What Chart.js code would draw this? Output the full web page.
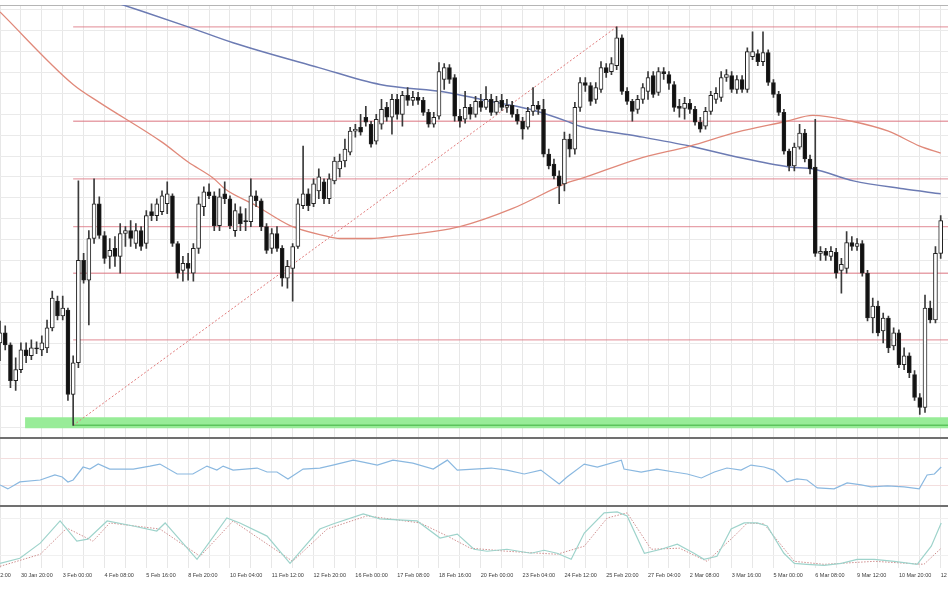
<!DOCTYPE html>
<html>
<head>
<meta charset="utf-8">
<script src="https://cdn.jsdelivr.net/npm/chart.js@4.4.1/dist/chart.umd.min.js"></script>
<style>
  html, body { margin: 0; padding: 0; background: #ffffff; }
  canvas { display: block; }
</style>
</head>
<body>
<canvas id="myChart" width="948" height="593"></canvas>
<script>
// 4h candles, price in points
var openPts = [
  95,105,93,57,68,88,82,90,88,90, 110,137,122,128,43,75,178,158,200,235,
  203,182,190,182,205,208,195,208,195,227, 223,227,235,243,195,168,175,165,190,232,
  247,243,213,245,240,208,225,218,217,243, 238,212,190,205,190,160,170,192,233,245,
  235,248,257,240,258,270,278,287,308,312, 322,315,298,315,332,322,340,325,344,339,
  342,339,327,315,323,360,372,362,323,320, 332,325,338,332,340,327,339,332,334,325,
  318,312,328,334,330,285,275,263,255,300, 290,332,357,354,340,350,372,368,374,402,
  348,338,330,340,348,364,347,368,365,355, 333,331,336,330,317,313,328,340,342,362,
  364,350,360,350,383,386,378,387,357,345, 327,288,273,292,306,280,272,185,187,182,
  186,168,170,196,192,195,165,120,132,107, 120,92,105,73,82,63,40,30,130,118,
  185
];
var highPts = [
  117,112,95,80,95,95,98,96,102,118, 147,142,142,130,82,258,185,208,260,242,
  207,200,202,215,212,218,215,212,228,235, 240,248,257,245,197,182,185,195,242,252,
  255,247,250,257,243,235,232,230,260,248, 240,215,210,212,193,178,195,240,293,250,
  260,270,260,265,282,285,300,312,315,325, 333,318,325,340,337,345,345,348,352,348,
  347,342,330,327,377,376,375,365,330,348, 335,343,345,353,345,343,345,340,338,330,
  322,332,352,338,340,290,280,268,307,305, 337,362,362,357,357,378,376,382,413,405,
  352,340,344,356,368,368,372,372,368,358, 340,342,340,333,322,332,348,352,368,370,
  368,364,364,392,408,390,408,390,360,348, 330,290,296,315,310,284,320,192,190,192,
  190,180,207,202,200,198,168,140,137,125, 122,110,108,90,85,67,44,143,137,192,
  223
];
var lowPts = [
  77,88,50,47,65,75,78,84,82,85, 107,118,118,37,12,70,155,113,195,200,
  175,170,172,165,192,192,190,188,190,218, 218,224,225,192,160,157,158,157,185,223,
  240,208,208,235,210,202,208,208,212,232, 208,185,185,187,152,150,137,190,230,228,
  232,240,235,235,255,262,272,284,302,304, 313,292,295,310,318,305,320,313,334,334,
  335,324,312,312,320,350,356,318,312,316, 320,322,328,330,324,325,329,327,322,315,
  300,310,324,325,282,270,260,235,248,282, 285,328,348,334,336,347,362,365,370,345,
  335,318,326,336,340,342,344,360,350,328, 322,320,326,314,307,310,325,336,338,358,
  347,346,347,347,380,374,374,354,342,324, 285,268,268,290,277,265,182,178,178,178,
  160,145,165,188,188,162,117,105,102,95, 85,88,70,68,60,37,23,25,115,115,
  180
];
var closePts = [
  105,93,57,68,88,82,90,89,95,110, 140,122,130,43,75,178,158,200,235,203,
  180,188,182,205,208,200,208,192,223,223, 235,243,245,195,165,175,170,190,235,247,
  243,213,242,240,213,228,215,217,243,238, 212,188,205,190,160,172,192,235,245,233,
  255,262,240,260,278,278,290,308,310,307, 317,295,320,330,322,340,325,344,339,342,
  339,327,315,322,368,372,360,323,318,332, 325,338,332,340,327,338,332,334,325,318,
  310,328,334,330,285,273,263,253,300,290, 332,357,354,338,352,372,367,376,402,348,
  338,328,340,352,362,345,368,366,356,332, 331,336,330,317,310,328,344,346,362,365,
  350,360,350,388,388,378,387,357,345,327, 288,273,292,306,280,270,185,187,183,187,
  165,174,196,192,195,165,120,132,105,120, 90,105,73,82,65,40,30,130,118,185,
  218
];

// time axis: one label every 8 candles
var labelSlots = [-4,4,12,20,28,36,44,52,60,68,76,84,92,100,108,116,124,132,140,148,156,164,172,180];
var timeLabels = ["29 Jan 12:00","30 Jan 20:00","3 Feb 00:00","4 Feb 08:00","5 Feb 16:00","8 Feb 20:00",
  "10 Feb 04:00","11 Feb 12:00","12 Feb 20:00","16 Feb 00:00","17 Feb 08:00","18 Feb 16:00",
  "20 Feb 00:00","23 Feb 04:00","24 Feb 12:00","25 Feb 20:00","27 Feb 04:00","2 Mar 08:00",
  "3 Mar 16:00","5 Mar 00:00","6 Mar 08:00","9 Mar 12:00","10 Mar 20:00","12 Mar 04:00"];

// moving averages [candle, value]
var maFast = [[0,428],[14,355],[19,337],[31,297],[36,277],[41,260],[43,250],[49,233],[55.5,213],[62,203],
  [65,200],[71,200],[75,202],[88,212],[98,230],[109,257],[111,260],[122,280],[132,293],[141,307],
  [150.5,318],[155.5,324],[163,318],[170,308],[176,293],[180,286]];
var maSlow = [[23,436],[36,413],[44.6,397],[61,372],[72.7,355],[85.6,347],[92,340],[101.4,330],[109,317],
  [111,313],[122,303],[132,293],[141,282],[151,272],[155.6,270],[163.3,258],[172.8,250],[180,245]];

// fibonacci levels from the low (candle 14) to the high (candle 118)
var fibLevels = [413, 318, 260, 212, 165, 98];
var fibLow = [14, 12];
var fibHigh = [118, 413];
var supportLevel = 14.5;

var rsiPts = [[0,30.9],[1.5,25],[3.8,35.3],[7.7,38.2],[10.5,45.6],[11.9,42.6],[13,35.3],[14,38.2],[15.9,57.4],
  [17.2,54.4],[18.8,61.8],[21,54.4],[25.5,54.4],[28.7,58.8],[30.6,61.8],[33.9,47.1],[36.9,47.1],[39.6,58.8],
  [41.5,52.9],[42.7,58.8],[44.6,52.9],[49.2,55.9],[51.1,50],[53,50],[55.1,39.7],[58,54.4],[61.2,55.9],
  [63.7,60.3],[67.6,67.6],[69.5,64.7],[72.2,60.3],[75.2,67.6],[79,63.2],[82.9,54.4],[85.6,67.6],[87.5,52.9],
  [90.7,54.4],[94,55.9],[97,52.9],[100.3,47.1],[103.5,52.9],[107,32.4],[108.5,42.6],[111.8,61.8],[114.3,57.4],
  [118.9,67.6],[119.4,54.4],[122.7,50],[125.7,54.4],[129,50],[131.5,47.1],[134.2,41.2],[136.7,50],[139.1,55.9],
  [141.8,52.9],[143.7,60.3],[146.2,57.4],[148.1,52.9],[150.6,35.3],[152.5,39.7],[154.4,38.2],[156.4,26.5],
  [159.6,25],[162.1,33.8],[164.8,30.9],[166.7,27.9],[169.8,29.4],[173,27.9],[175.9,25],[177.4,45.6],
  [178.8,47.1],[180.1,57.4]];

var stochMain = [[0,8.1],[3.8,16.1],[7.7,40.3],[11.5,75.8],[14.7,43.5],[16.8,46.8],[20.5,75.8],[25.5,67.7],
  [30,59.7],[31.6,72.6],[37.7,14.5],[43.4,80.6],[45.9,72.6],[51.1,51.6],[55.5,8.1],[61.2,62.9],[63.7,71],
  [69.5,87.1],[72.7,79],[79.8,75.8],[84.2,48.4],[87.5,54.8],[90.7,30.6],[93.2,27.4],[97,30.6],[101.6,24.2],
  [104.1,29],[106.6,24.2],[109.3,14.5],[111.8,56.5],[115.6,88.7],[118.1,90.3],[120,83.9],[123.3,24.2],
  [126.5,30.6],[129.6,38.7],[132.8,24.2],[134.7,14.5],[137.2,19.4],[139.9,62.9],[142.4,72.6],[144.9,72.6],
  [146.8,67.7],[150,24.2],[152,8.1],[154.4,6.5],[157.7,4.8],[161,8.1],[164,14.5],[167.3,14.5],[171.1,11.3],
  [175.5,6.5],[178.2,35.5],[180.1,72.6]];
var stochSignal = [[0,3.2],[7.7,22.6],[12.8,64.5],[17.8,43.5],[21,72.6],[30.6,62.9],[38.3,19.4],[44.6,75.8],
  [56,11.3],[62.6,62.9],[70.2,83.9],[80.4,72.6],[85.6,51.6],[90,32.3],[97,27.4],[106.6,22.6],[111.8,35.5],
  [116.2,80.6],[120,88.7],[124.6,30.6],[130,32.3],[135.3,11.3],[140.5,51.6],[143,72.6],[146.2,71],[152,11.3],
  [157.7,6.5],[167.3,11.3],[176.8,6.5],[180.1,32.3]];

var xMax = 181.4;

function toXY(list)
{
  return list.map(function(p) { return {x: p[0], y: p[1]}; });
}

function hline(value, fromX, color, width, axis)
{
  return {
    type: 'line', yAxisID: axis || 'y', data: [{x: fromX, y: value}, {x: xMax, y: value}],
    borderColor: color, borderWidth: width, pointRadius: 0, order: 5
  };
}

var wickData = highPts.map(function(h, i) { return {x: i, y: [lowPts[i], h]}; });
var bodyData = openPts.map(function(o, i) { return {x: i, y: [o, closePts[i]]}; });

var datasets = [
  {
    type: 'bar', yAxisID: 'y', data: bodyData, grouped: false, order: 0,
    barThickness: 4, minBarLength: 1, borderWidth: 1, borderSkipped: false, borderColor: '#222222',
    backgroundColor: function(ctx) {
      return closePts[ctx.dataIndex] >= openPts[ctx.dataIndex] ? '#ffffff' : '#111111';
    }
  },
  {
    type: 'bar', yAxisID: 'y', data: wickData, grouped: false, order: 1,
    barThickness: 1, backgroundColor: '#3a3a3a', borderWidth: 0
  },
  {
    type: 'line', yAxisID: 'y', data: toXY(maFast), borderColor: '#e0897a', borderWidth: 1.3,
    pointRadius: 0, cubicInterpolationMode: 'monotone', order: 2
  },
  {
    type: 'line', yAxisID: 'y', data: toXY(maSlow), borderColor: '#6c7bb3', borderWidth: 1.5,
    pointRadius: 0, cubicInterpolationMode: 'monotone', order: 2
  },
  {
    type: 'line', yAxisID: 'y', data: [{x: fibLow[0], y: fibLow[1]}, {x: fibHigh[0], y: fibHigh[1]}],
    borderColor: '#e07a7a', borderWidth: 1, borderDash: [2, 2], pointRadius: 0, order: 4
  },
  hline(fibLow[1], fibLow[0], '#5cc45c', 1.5),
  {
    type: 'line', yAxisID: 'y', data: [{x: 4.8, y: supportLevel}, {x: xMax, y: supportLevel}],
    borderColor: '#98ec98', borderWidth: 11, pointRadius: 0, order: 8
  },
  {
    type: 'line', yAxisID: 'yRsi', data: toXY(rsiPts), borderColor: '#8ab8e0', borderWidth: 1.2,
    pointRadius: 0, order: 2
  },
  {
    type: 'line', yAxisID: 'yStoch', data: toXY(stochMain), borderColor: '#9ed3cb', borderWidth: 1.2,
    pointRadius: 0, order: 2
  },
  {
    type: 'line', yAxisID: 'yStoch', data: toXY(stochSignal), borderColor: '#cf8f8f', borderWidth: 1,
    borderDash: [1.5, 1.5], pointRadius: 0, order: 3
  }
];

for (var f = 0; f < fibLevels.length; f++)
{
  datasets.push(hline(fibLevels[f], fibLow[0], 'rgba(218,112,124,0.65)', 1.4));
}

function paneAxis(weight, stackWeight, min, max, ticks, colorFn, widthFn)
{
  return {
    type: 'linear', position: 'left', stack: 'panes', stackWeight: stackWeight, weight: weight,
    min: min, max: max, offset: false,
    border: {display: false},
    ticks: {display: false},
    grid: {drawTicks: false, color: colorFn, lineWidth: widthFn},
    afterBuildTicks: function(axis) {
      axis.ticks = ticks.map(function(v) { return {value: v}; });
    }
  };
}

var mainTicks = [-1];
for (var g = 10; g <= 430; g += 21) mainTicks.push(g);
mainTicks.push(435);

var xTicks = [];
for (var t = -4; t <= 180; t += 4) xTicks.push(t);

var chart = new Chart(document.getElementById('myChart').getContext('2d'), {
  type: 'bar',
  data: {datasets: datasets},
  options: {
    responsive: false,
    animation: false,
    devicePixelRatio: 1,
    layout: {padding: {top: 5, bottom: 10, left: 0, right: 0}},
    plugins: {legend: {display: false}, tooltip: {enabled: false}},
    scales: {
      x: {
        type: 'linear', min: 0, max: xMax, offset: false,
        border: {display: false},
        grid: {offset: false, drawTicks: false, color: '#e7e7e7'},
        ticks: {
          autoSkip: false, maxRotation: 0, minRotation: 0, align: 'start', padding: 4,
          color: '#3a3a3a', font: {family: 'Liberation Sans', size: 5.5},
          callback: function(value) {
            var k = labelSlots.indexOf(value);
            return k >= 0 ? timeLabels[k] : '';
          }
        },
        afterBuildTicks: function(axis) {
          axis.ticks = xTicks.map(function(v) { return {value: v}; });
        },
        afterFit: function(axis) { axis.paddingLeft = 0; axis.paddingRight = 0; }
      },
      y: paneAxis(3, 436, -1, 435, mainTicks,
        function(ctx) { return ctx.tick.value === -1 ? '#707070' : (ctx.tick.value === 435 ? '#b5b5b5' : '#eaeaea'); },
        function(ctx) { return ctx.tick.value === -1 ? 2 : 1; }),
      yRsi: paneAxis(2, 68, 0, 100, [0, 30, 70, 100],
        function(ctx) { return ctx.tick.value === 100 ? '#707070' : (ctx.tick.value === 0 ? 'rgba(0,0,0,0)' : '#f3dede'); },
        function(ctx) { return ctx.tick.value === 100 ? 2 : 1; }),
      yStoch: paneAxis(1, 63, 0, 100, [0, 20, 80, 100],
        function(ctx) { return ctx.tick.value === 100 ? '#707070' : (ctx.tick.value === 0 ? 'rgba(0,0,0,0)' : '#f0f0f0'); },
        function(ctx) { return ctx.tick.value === 100 ? 2 : 1; })
    }
  }
});
</script>
</body>
</html>
